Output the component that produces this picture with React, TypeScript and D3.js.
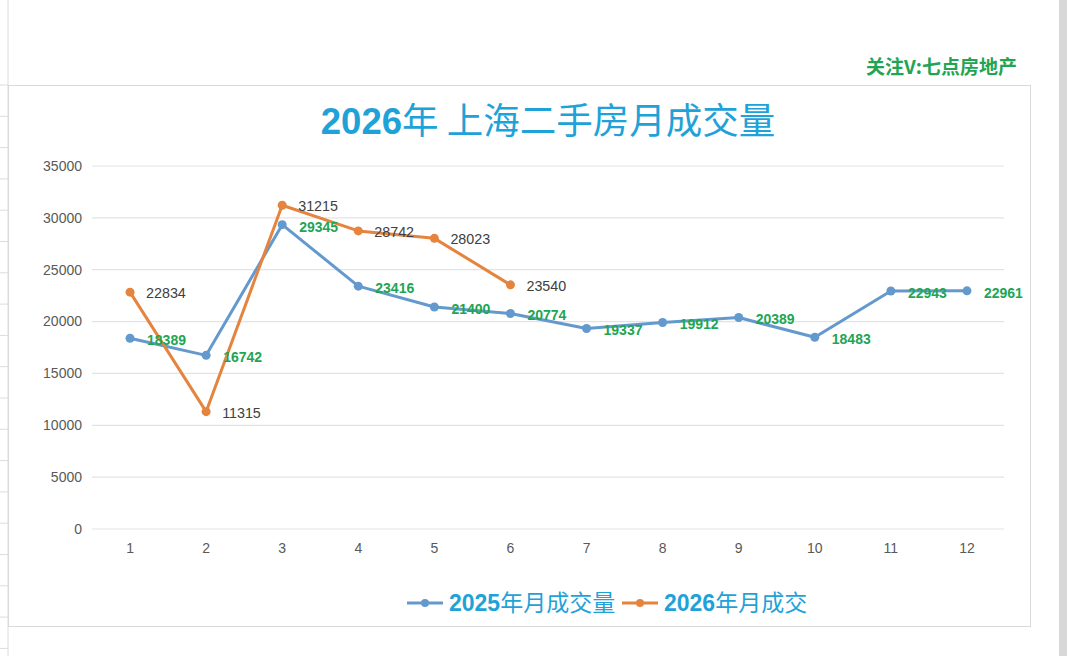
import React from "react";
import * as d3 from "d3";

const months = ["1", "2", "3", "4", "5", "6", "7", "8", "9", "10", "11", "12"];
const values2025 = [18389, 16742, 29345, 23416, 21400, 20774, 19337, 19912, 20389, 18483, 22943, 22961];
const values2026 = [22834, 11315, 31215, 28742, 28023, 23540];
const yTicks = [0, 5000, 10000, 15000, 20000, 25000, 30000, 35000];
const seriesNames = ["2025年月成交量", "2026年月成交"];

const W = 1080;
const H = 656;
const BLUE = "#6399cd";
const ORANGE = "#e5843f";
const TITLE_BLUE = "#1ea2d8";
const GREEN = "#22a553";
const LATIN = "Arial, 'Liberation Sans', 'Noto Sans CJK SC', sans-serif";
const CJK = "'Noto Sans CJK SC', sans-serif";

export default function App() {
  const x = d3.scaleBand<string>().domain(months).range([92, 1005]);
  const cx = (m: string) => (x(m) as number) + x.bandwidth() / 2;
  const y = d3.scaleLinear().domain([0, 35000]).range([529, 166]);

  const line = d3
    .line<number>()
    .x((_, i) => cx(months[i]))
    .y((d) => y(d));

  const rowLines = d3.range(85, H, 31.3);

  return (
    <svg
      width={W}
      height={H}
      style={{ position: "absolute", left: 0, top: 0, background: "#fff" }}
    >
      {/* spreadsheet background */}
      <line x1={8} x2={8} y1={0} y2={H} stroke="#dcdcdc" strokeWidth={1} />
      {rowLines.map((ry, i) => (
        <line key={i} x1={0} x2={8} y1={ry} y2={ry} stroke="#dcdcdc" />
      ))}
      <rect x={1059} y={0} width={8} height={H} fill="#d8d8d8" />

      {/* watermark */}
      <text
        x={1017}
        y={74}
        textAnchor="end"
        fill={GREEN}
        fontFamily={CJK}
        fontWeight={700}
        fontSize={19}
      >
        关注V:七点房地产
      </text>

      {/* chart frame */}
      <rect x={8.5} y={85.5} width={1022} height={541} fill="#fff" stroke="#d9d9d9" />

      {/* title */}
      <text x={548} y={134} textAnchor="middle" fill={TITLE_BLUE} fontSize={36.5}>
        <tspan fontFamily={LATIN} fontWeight={700}>2026</tspan>
        <tspan fontFamily={CJK} fontWeight={400}>年 上海二手房月成交量</tspan>
      </text>

      {/* gridlines + y labels */}
      {yTicks.map((t) => (
        <g key={t}>
          <line x1={92} x2={1004} y1={y(t)} y2={y(t)} stroke="#e3e3e3" strokeWidth={1.2} />
          <text
            x={82}
            y={y(t)}
            dy="0.35em"
            textAnchor="end"
            fill="#595959"
            fontFamily={LATIN}
            fontSize={14}
          >
            {t}
          </text>
        </g>
      ))}

      {/* x labels */}
      {months.map((m) => (
        <text
          key={m}
          x={cx(m)}
          y={553}
          textAnchor="middle"
          fill="#595959"
          fontFamily={LATIN}
          fontSize={14}
        >
          {m}
        </text>
      ))}

      {/* 2025 series */}
      <path d={line(values2025) || ""} fill="none" stroke={BLUE} strokeWidth={3} strokeLinejoin="round" />
      {values2025.map((v, i) => (
        <circle key={i} cx={cx(months[i])} cy={y(v)} r={4.5} fill={BLUE} />
      ))}

      {/* 2026 series */}
      <path d={line(values2026) || ""} fill="none" stroke={ORANGE} strokeWidth={3} strokeLinejoin="round" />
      {values2026.map((v, i) => (
        <circle key={i} cx={cx(months[i])} cy={y(v)} r={4.5} fill={ORANGE} />
      ))}

      {/* labels 2025 */}
      {values2025.map((v, i) => (
        <text
          key={i}
          x={cx(months[i]) + 17}
          y={y(v) + 2}
          dy="0.35em"
          fill={GREEN}
          fontFamily={LATIN}
          fontWeight={700}
          fontSize={14}
        >
          {v}
        </text>
      ))}

      {/* labels 2026 */}
      {values2026.map((v, i) => (
        <text
          key={i}
          x={cx(months[i]) + 16}
          y={y(v) + 1}
          dy="0.35em"
          fill="#404040"
          fontFamily={LATIN}
          fontSize={14.3}
        >
          {v}
        </text>
      ))}

      {/* legend */}
      <g>
        <line x1={407} x2={443} y1={603} y2={603} stroke={BLUE} strokeWidth={3} />
        <circle cx={425} cy={603} r={4} fill={BLUE} />
        <text x={449} y={611} fill={TITLE_BLUE} fontSize={23}>
          <tspan fontFamily={LATIN} fontWeight={700}>2025</tspan>
          <tspan fontFamily={CJK} fontWeight={400}>{seriesNames[0].slice(4)}</tspan>
        </text>
        <line x1={622} x2={658} y1={603} y2={603} stroke={ORANGE} strokeWidth={3} />
        <circle cx={640} cy={603} r={4} fill={ORANGE} />
        <text x={664} y={611} fill={TITLE_BLUE} fontSize={23}>
          <tspan fontFamily={LATIN} fontWeight={700}>2026</tspan>
          <tspan fontFamily={CJK} fontWeight={400}>{seriesNames[1].slice(4)}</tspan>
        </text>
      </g>
    </svg>
  );
}
